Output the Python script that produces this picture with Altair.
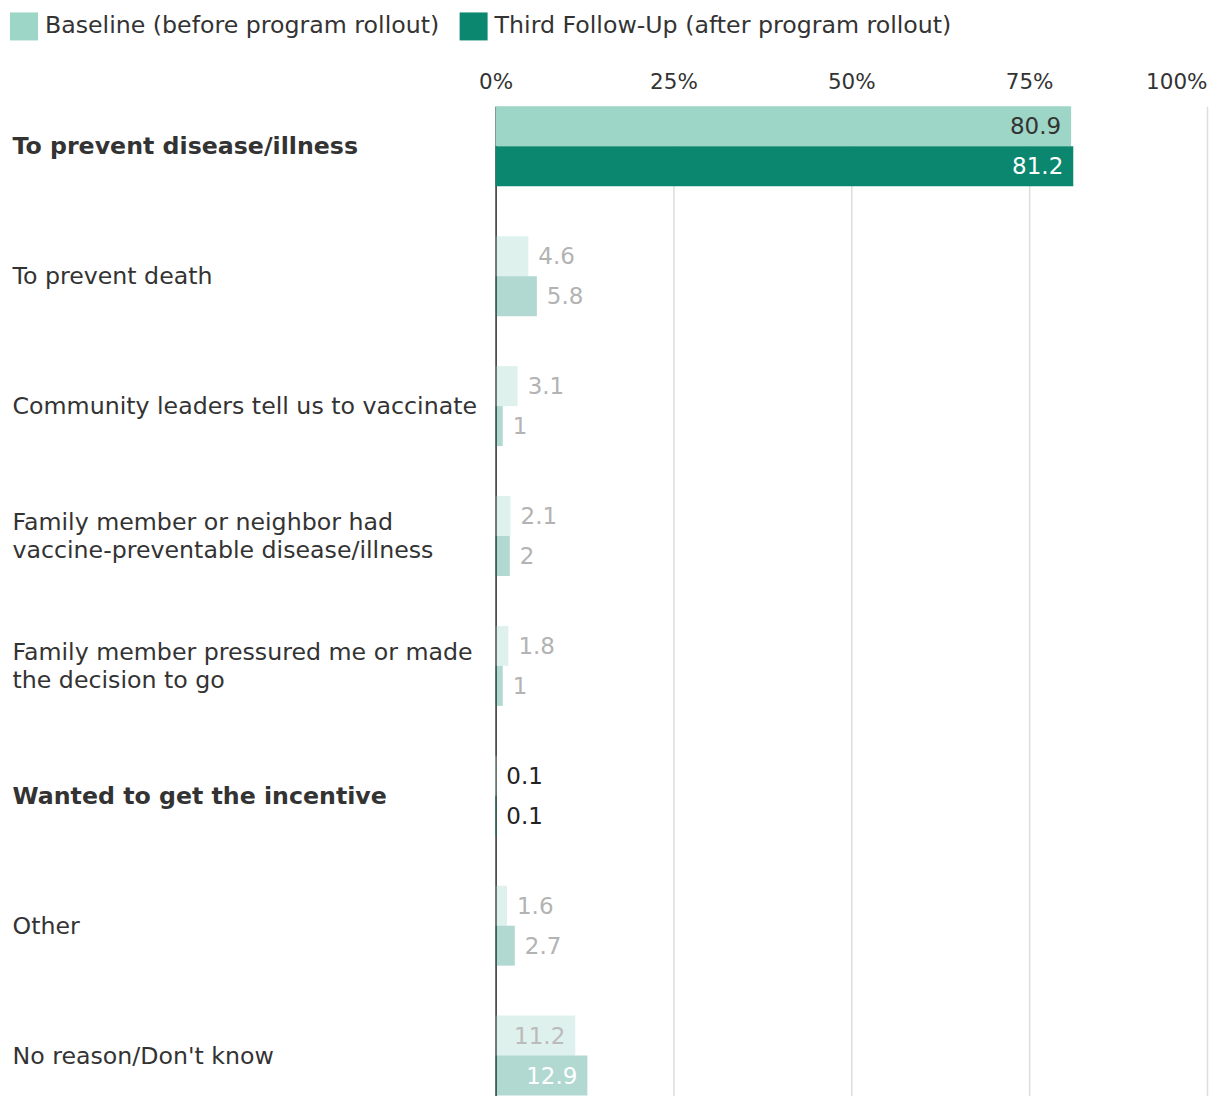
import altair as alt
import pandas as pd

categories = [
    "To prevent disease/illness",
    "To prevent death",
    "Community leaders tell us to vaccinate",
    "Family member or neighbor had|vaccine-preventable disease/illness",
    "Family member pressured me or made|the decision to go",
    "Wanted to get the incentive",
    "Other",
    "No reason/Don't know",
]
baseline = [80.9, 4.6, 3.1, 2.1, 1.8, 0.1, 1.6, 11.2]
followup = [81.2, 5.8, 1.0, 2.0, 1.0, 0.1, 2.7, 12.9]
baseline_txt = ["80.9", "4.6", "3.1", "2.1", "1.8", "0.1", "1.6", "11.2"]
followup_txt = ["81.2", "5.8", "1", "2", "1", "0.1", "2.7", "12.9"]
highlight = [True, False, False, False, False, True, False, False]
series = ["Baseline (before program rollout)", "Third Follow-Up (after program rollout)"]
series_colors = ["#9dd5c6", "#0b8770"]

rows = []
for i, c in enumerate(categories):
    for s, vals, txts in ((0, baseline, baseline_txt), (1, followup, followup_txt)):
        v = vals[i]
        inside = v > 10
        if inside:
            if highlight[i]:
                tc = "#333333" if s == 0 else "#ffffff"
            else:
                tc = "#bbbbbb" if s == 0 else "#ffffff"
        else:
            tc = "#222222" if highlight[i] else "#b3b3b3"
        rows.append({
            "category": c,
            "series": series[s],
            "value": v,
            "label": txts[i],
            "hl": highlight[i],
            "inside": inside,
            "tcolor": tc,
        })
df = pd.DataFrame(rows)

FONT = "DejaVu Sans"
FS = 23
FS_LAB = 23.7
FS_TOP = 21.5
bold_test = "indexof(['To prevent disease/illness','Wanted to get the incentive'], datum.value) >= 0"

y_enc = alt.Y(
    "category:N",
    sort=categories,
    title=None,
    scale=alt.Scale(paddingInner=0.3846, paddingOuter=0),
    axis=alt.Axis(
        labelAlign="left",
        labelPadding=484,
        ticks=False,
        domain=True,
        domainColor="#333333",
        domainWidth=1.5,
        labelFontSize=FS_LAB,
        labelColor="#333333",
        labelFont=FONT,
        labelLineHeight=28,
        labelLimit=0,
        labelExpr="split(datum.label, '|')",
        labelOffset={"condition": {"test": "indexof(datum.value, '|') >= 0", "value": -13}, "value": 1},
        labelFontWeight={"condition": {"test": bold_test, "value": "bold"}, "value": "normal"},
        grid=False,
    ),
)
x_enc = alt.X(
    "value:Q",
    title=None,
    scale=alt.Scale(domain=[0, 100], nice=False),
    axis=alt.Axis(
        orient="top",
        values=[0, 25, 50, 75, 100],
        labelExpr="datum.value + '%'",
        ticks=False,
        domain=False,
        gridColor="#dddddd",
        gridWidth=1.5,
        labelFontSize=FS_TOP,
        labelColor="#333333",
        labelFont=FONT,
        labelPadding=13,
        labelFlush=False,
        labelAlign={"condition": {"test": "datum.value == 100", "value": "right"}, "value": "center"},
    ),
)
yoff = alt.YOffset("series:N", sort=series)

bars = alt.Chart(df).mark_bar().encode(
    y=y_enc,
    x=x_enc,
    yOffset=yoff,
    color=alt.Color(
        "series:N",
        sort=series,
        scale=alt.Scale(domain=series, range=series_colors),
        legend=alt.Legend(
            title=None,
            orient="none",
            direction="horizontal",
            legendX=-486,
            legendY=-94,
            symbolType="square",
            symbolSize=784,
            symbolStrokeWidth=0,
            symbolOpacity=1,
            labelFontSize=FS_LAB,
            labelFont=FONT,
            labelColor="#333333",
            labelOffset=7,
            columnPadding=20,
            labelLimit=0,
        ),
    ),
    opacity=alt.condition("datum.hl", alt.value(1), alt.value(0.32)),
)

text_out = alt.Chart(df).transform_filter("!datum.inside").mark_text(
    align="left", baseline="middle", dx=10, dy=1, fontSize=FS, font=FONT
).encode(
    y=alt.Y("category:N", sort=categories),
    x="value:Q",
    yOffset=yoff,
    text="label:N",
    color=alt.Color("tcolor:N", scale=None),
)
text_in = alt.Chart(df).transform_filter("datum.inside").mark_text(
    align="right", baseline="middle", dx=-10, dy=1, fontSize=FS, font=FONT
).encode(
    y=alt.Y("category:N", sort=categories),
    x="value:Q",
    yOffset=yoff,
    text="label:N",
    color=alt.Color("tcolor:N", scale=None),
)

chart = alt.layer(bars, text_out, text_in).properties(
    width=712,
    height=990,
    padding={"left": 2, "top": 4, "right": 5, "bottom": 5},
).configure_view(stroke=None).configure_axis(labelFont=FONT)

chart.save("out.html", embed_options={"renderer": "svg", "actions": False})
